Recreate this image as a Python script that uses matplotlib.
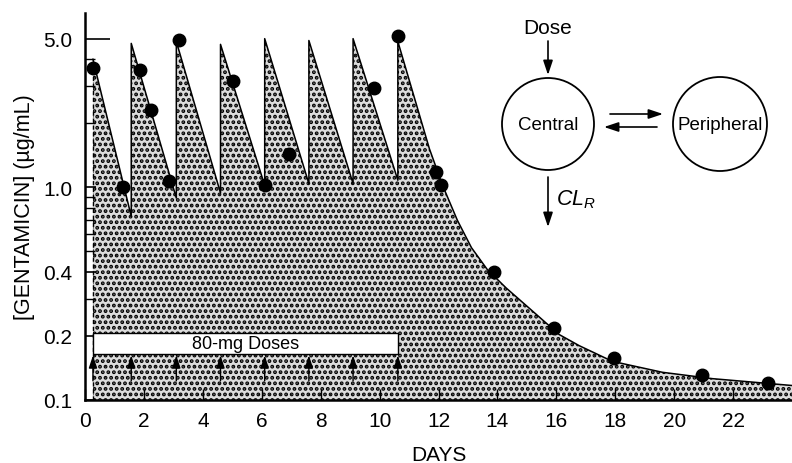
import matplotlib
matplotlib.use("Agg")
import matplotlib.pyplot as plt
from matplotlib.patches import Circle, Rectangle, FancyArrowPatch
from matplotlib.ticker import FixedLocator, FixedFormatter, NullFormatter

plt.rcParams['font.family'] = ['Liberation Sans', 'DejaVu Sans']
plt.rcParams['mathtext.fontset'] = 'custom'
plt.rcParams['mathtext.rm'] = 'Liberation Sans'
plt.rcParams['mathtext.it'] = 'Liberation Sans:italic'
plt.rcParams['hatch.linewidth'] = 1.9

# ---- data ----
dose_days = [0.27, 1.57, 3.1, 4.6, 6.1, 7.6, 9.1, 10.62]
peak_conc = [4.0, 4.75, 4.85, 4.7, 5.0, 4.9, 5.0, 4.85]
trough_conc = [0.73, 0.89, 0.94, 1.02, 1.04, 1.04, 1.08]

tail_days = [11.69, 12.14, 12.64, 13.12, 13.66, 14.3, 15.19, 16.1, 16.78, 17.9, 19.6, 21.3, 24.0]
tail_conc = [1.52, 1.02, 0.70, 0.52, 0.41, 0.336, 0.262, 0.203, 0.180, 0.152, 0.135, 0.126, 0.117]

dot_days = [0.27, 1.28, 1.88, 2.24, 2.86, 3.19, 5.03, 6.1, 6.92, 9.8, 10.64,
            11.93, 12.1, 13.9, 15.93, 17.97, 20.95, 23.2]
dot_conc = [3.62, 1.0, 3.58, 2.32, 1.07, 4.95, 3.15, 1.02, 1.44, 2.92, 5.12,
            1.18, 1.02, 0.40, 0.218, 0.157, 0.131, 0.12]

ytick_vals = [0.1, 0.2, 0.4, 1.0, 5.0]
ytick_labels = ['0.1', '0.2', '0.4', '1.0', '5.0']
yminor_vals = [0.3, 0.5, 0.6, 0.7, 0.8, 0.9, 2.0, 3.0, 4.0]
xtick_vals = [0, 2, 4, 6, 8, 10, 12, 14, 16, 18, 20, 22]

# build sawtooth + tail curve from the read values
curve_x, curve_y = [], []
for i, t in enumerate(dose_days):
    curve_x.append(t); curve_y.append(peak_conc[i])
    if i < len(trough_conc):
        curve_x.append(dose_days[i + 1]); curve_y.append(trough_conc[i])
curve_x += tail_days
curve_y += tail_conc

YMIN, YMAX = 0.1, 6.6
BOX_LO, BOX_HI = 0.164, 0.206
ARROW_LO, ARROW_HI = 0.123, 0.162

fig = plt.figure(figsize=(7.92, 4.64), dpi=100)
ax = fig.add_axes([85/792, 1-401/464, 1-85/792, (401-14)/464])
ax.set_yscale('log')
ax.set_xlim(0, 24)
ax.set_ylim(YMIN, YMAX)

ax.fill_between(curve_x, YMIN, curve_y, facecolor='#dcdcdc', edgecolor='black',
                hatch='...', linewidth=0, zorder=1)
ax.plot(curve_x, curve_y, color='black', lw=1.1, zorder=3)
ax.plot([dose_days[0], dose_days[0]], [YMIN, peak_conc[0]], color='black', lw=1.0,
        ls=(0, (3, 2)), zorder=3)
ax.plot(dot_days, dot_conc, 'o', color='black', ms=9, zorder=5)

# dosing box and arrows
ax.add_patch(Rectangle((dose_days[0], BOX_LO), dose_days[-1] - dose_days[0], BOX_HI - BOX_LO,
                       facecolor='white', edgecolor='black', lw=1.0, zorder=4))
ax.text((dose_days[0] + dose_days[-1]) / 2, (BOX_LO * BOX_HI) ** 0.5, '80-mg Doses',
        ha='center', va='center', fontsize=13, zorder=6)
for t in dose_days:
    ax.add_patch(FancyArrowPatch((t, ARROW_LO), (t, ARROW_HI),
                                 arrowstyle='-|>,head_length=0.75,head_width=0.25',
                                 mutation_scale=10, color='black', lw=1.0,
                                 shrinkA=0, shrinkB=0, zorder=6))

for s in ['top', 'right']:
    ax.spines[s].set_visible(False)
for s in ['left', 'bottom']:
    ax.spines[s].set_linewidth(1.8)

ax.yaxis.set_major_locator(FixedLocator(ytick_vals))
ax.yaxis.set_major_formatter(FixedFormatter(ytick_labels))
ax.yaxis.set_minor_locator(FixedLocator(yminor_vals))
ax.yaxis.set_minor_formatter(NullFormatter())
ax.set_xticks(xtick_vals)
ax.tick_params(axis='y', which='major', direction='in', length=8, width=1.2, labelsize=15, pad=9)
ax.tick_params(axis='y', which='minor', direction='in', length=7, width=1.0)
ax.tick_params(axis='x', which='major', direction='in', length=8, width=1.0, labelsize=15, pad=8)
ax.yaxis.get_major_ticks()[-1].tick1line.set_markersize(18)
ax.set_xlabel('DAYS', fontsize=15, labelpad=11)
ax.set_ylabel('[GENTAMICIN] (µg/mL)', fontsize=15.5, labelpad=6)

# compartment diagram (pixel coordinates overlay)
ov = fig.add_axes([0, 0, 1, 1], facecolor='none')
ov.set_xlim(0, 792)
ov.set_ylim(464, 0)
ov.axis('off')
ov.add_patch(Circle((548, 125), 46, facecolor='none', edgecolor='black', lw=1.3))
ov.add_patch(Circle((720, 125), 47, facecolor='none', edgecolor='black', lw=1.3))
ov.text(548, 126, 'Central', ha='center', va='center', fontsize=13.5)
ov.text(720, 126, 'Peripheral', ha='center', va='center', fontsize=13.5)
ov.text(548, 29, 'Dose', ha='center', va='center', fontsize=15)
ov.text(556, 200, '$CL_R$', ha='left', va='center', fontsize=15.5)
astyle = '-|>,head_length=0.72,head_width=0.24'
for (x0, y0, x1, y1) in [(548, 42, 548, 76), (548, 178, 548, 228),
                         (610, 115, 663, 115), (657, 128, 604, 128)]:
    ov.add_patch(FancyArrowPatch((x0, y0), (x1, y1), arrowstyle=astyle, mutation_scale=12,
                                 color='black', lw=1.2, shrinkA=0, shrinkB=0))

fig.savefig('out.png', dpi=100)
